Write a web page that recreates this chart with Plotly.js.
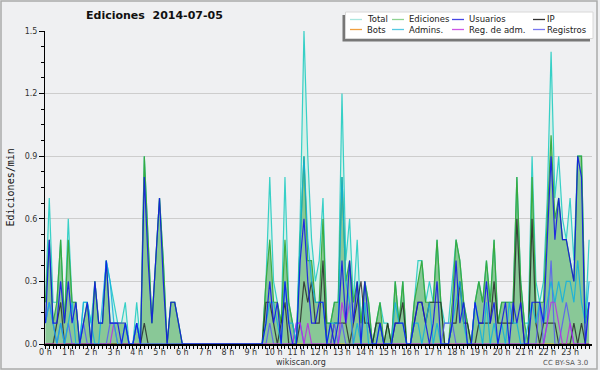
<!DOCTYPE html>
<html>
<head>
<meta charset="utf-8">
<script src="https://cdn.plot.ly/plotly-3.0.1.min.js"></script>
<style>html,body{margin:0;padding:0;background:#eff0f2;}#chart{width:600px;height:370px;}</style>
</head>
<body>
<div id="chart"></div>
<script>
// values per 10-minute bucket (edits per minute), 144 buckets, rows of 2 hours
const total = [
  0.2,0.7,0.2,0.2,0.5,0.1,0.6,0.2,0.2,0,0.2,0.2,
  0.1,0.3,0.1,0.1,0.4,0.3,0.2,0.1,0.1,0.2,0,0,
  0.2,0,0.9,0.5,0.1,0.4,0.7,0.4,0,0.2,0.2,0.1,
  0,0,0,0,0,0,0,0,0,0,0,0,
  0,0,0,0,0,0,0,0,0,0,0.3,0.8,
  0.3,0.2,0.1,0.8,0.2,0.1,0,0.6,1.5,0.9,0.5,0.3,
  0.4,0.7,0.1,0.1,0.2,0.2,1.2,0.4,0.6,0.2,0.5,0.1,
  0.3,0.2,0,0.1,0.2,0.1,0.1,0,0.3,0.1,0.3,0,
  0,0.2,0.4,0.4,0.2,0.3,0.2,0.5,0.2,0.1,0.1,0.3,
  0.5,0.4,0.2,0.1,0,0.2,0.3,0.2,0.4,0.2,0.5,0.1,
  0.2,0.2,0.2,0.2,0.8,0.3,0.1,0.1,0.9,0.3,0.2,0.3,
  0.7,1.4,0.7,0.9,0.6,0.5,0.7,0.4,0.9,0.9,0.1,0.5
];
const ediciones = [
  0.2,0.5,0.1,0.2,0.5,0.1,0.5,0.2,0.2,0,0.1,0.2,
  0,0.3,0.1,0.1,0.4,0.1,0.1,0.1,0.1,0.1,0,0,
  0.1,0,0.9,0.5,0.1,0.4,0.7,0.4,0,0.2,0.2,0.1,
  0,0,0,0,0,0,0,0,0,0,0,0,
  0,0,0,0,0,0,0,0,0,0,0.3,0.5,
  0.2,0.2,0.1,0.5,0.2,0.1,0,0.5,0.9,0.4,0.4,0.2,
  0.2,0.6,0.1,0.1,0.2,0.2,0.8,0.3,0.4,0.2,0.3,0.1,
  0.3,0.2,0,0.1,0.2,0,0.1,0,0.3,0.1,0.3,0,
  0,0.2,0.3,0.4,0.2,0.2,0.2,0.5,0.2,0,0,0.2,
  0.5,0.4,0.2,0.1,0,0.2,0.3,0.2,0.4,0.2,0.5,0.1,
  0.2,0.2,0.2,0.2,0.8,0.3,0.1,0,0.8,0.2,0.2,0.2,
  0.6,1.0,0.6,0.7,0.5,0.5,0.4,0.3,0.9,0.9,0.1,0.2
];
const usuarios = [
  0.1,0.5,0.1,0.1,0.3,0.1,0.3,0.1,0.2,0,0.1,0.2,
  0,0.3,0.1,0.1,0.4,0.1,0.1,0.1,0,0.1,0,0,
  0.1,0,0.8,0.4,0.1,0.4,0.7,0.3,0,0.2,0.2,0.1,
  0,0,0,0,0,0,0,0,0,0,0,0,
  0,0,0,0,0,0,0,0,0,0,0.1,0.3,
  0.1,0.2,0,0.3,0.1,0,0,0.4,0.6,0.3,0.1,0.1,
  0.2,0.2,0,0.1,0,0.1,0.4,0.1,0.4,0.1,0.3,0,
  0.3,0.1,0,0,0.1,0,0,0,0.1,0.1,0.1,0,
  0,0.1,0.2,0.2,0.1,0,0.1,0.3,0,0,0,0.1,
  0.4,0.1,0.2,0,0,0.2,0.1,0.1,0.3,0.1,0.2,0,
  0.1,0.2,0,0.2,0.1,0.2,0,0,0.2,0.2,0.2,0.1,
  0.5,0.9,0.5,0.7,0.5,0.5,0.4,0.3,0.9,0.8,0,0.2
];
const ip = [
  0,0,0,0.1,0.2,0,0,0,0,0,0,0,
  0,0,0,0,0,0,0,0,0,0,0,0,
  0,0,0.1,0,0,0,0,0,0,0,0,0,
  0,0,0,0,0,0,0,0,0,0,0,0,
  0,0,0,0,0,0,0,0,0,0,0.2,0.2,
  0.1,0,0.1,0.2,0,0,0,0.1,0.3,0.2,0.3,0.1,
  0.1,0.4,0,0,0.1,0.1,0.1,0.1,0,0.1,0.2,0.3,
  0.1,0.1,0,0.1,0.1,0,0.1,0,0.1,0.1,0.2,0,
  0,0.1,0.2,0.2,0.1,0.2,0.2,0.2,0.2,0,0,0.1,
  0.1,0.3,0.1,0.1,0,0,0.1,0.1,0.1,0.1,0.3,0.1,
  0.1,0.1,0.1,0.1,0.6,0.2,0,0,0.6,0.1,0,0.1,
  0.1,0.1,0.1,0,0,0,0,0.1,0,0.1,0,0
];
const bots = [
  0,0,0,0,0,0,0,0,0,0,0,0,
  0,0,0,0,0,0,0,0,0,0,0,0,
  0,0,0,0,0,0,0,0,0,0,0,0,
  0,0,0,0,0,0,0,0,0,0,0,0,
  0,0,0,0,0,0,0,0,0,0,0,0,
  0,0,0,0,0,0,0,0,0,0,0,0,
  0,0,0,0,0,0,0,0,0,0,0,0,
  0,0,0,0,0,0,0,0,0,0,0,0,
  0,0,0,0,0,0,0,0,0,0,0,0,
  0,0,0,0,0,0,0,0,0,0,0,0,
  0,0,0,0,0,0,0,0,0,0,0,0,
  0,0,0,0,0,0,0,0,0,0,0,0
];
const admins = [
  0.1,0.2,0.1,0,0.1,0,0.1,0.2,0,0,0.2,0.2,
  0.1,0,0,0.2,0.4,0.3,0.1,0,0,0.1,0,0,
  0.1,0,0,0,0,0,0,0,0,0,0,0,
  0,0,0,0,0,0,0,0,0,0,0,0,
  0,0,0,0,0,0,0,0,0,0,0.1,0.2,
  0.2,0.1,0,0.3,0.1,0.1,0,0.5,0.9,0.5,0.3,0.2,
  0.2,0.2,0,0.1,0.1,0.1,0.8,0.3,0.2,0,0.1,0,
  0.2,0,0,0,0.1,0,0,0,0.2,0.1,0.1,0,
  0,0.1,0.1,0,0.1,0.2,0,0.1,0,0,0,0.1,
  0.2,0.3,0.1,0,0,0.2,0.1,0,0.2,0,0.1,0,
  0.1,0,0.2,0.1,0.1,0,0,0.1,0.2,0.1,0.2,0.1,
  0.2,0.3,0.2,0.3,0.2,0.3,0.3,0.2,0.4,0.2,0.1,0.3
];
const regAdm = [
  0,0,0,0,0,0,0,0,0,0,0,0,
  0,0,0,0,0,0,0.1,0,0,0,0,0,
  0,0,0,0,0,0,0,0,0,0,0,0,
  0,0,0,0,0,0,0,0,0,0,0,0,
  0,0,0,0,0,0,0,0,0,0,0,0,
  0,0,0,0,0,0,0.1,0.1,0,0.1,0,0,
  0,0,0,0,0,0,0.2,0.1,0.2,0,0,0,
  0,0,0,0,0,0,0,0,0,0,0,0,
  0,0,0,0,0,0,0,0,0,0,0,0,
  0,0,0,0,0,0,0,0,0,0,0,0,
  0,0,0,0,0,0,0,0,0,0,0,0,
  0.1,0.2,0.2,0.1,0,0,0.1,0,0,0,0,0
];
const registros = [
  0.1,0.2,0.1,0,0.1,0,0.1,0,0,0,0.1,0,
  0,0,0,0,0,0.1,0.1,0.1,0.1,0.1,0,0,
  0.1,0,0,0,0,0,0,0,0,0,0,0,
  0,0,0,0,0,0,0,0,0,0,0,0,
  0,0,0,0,0,0,0,0,0,0,0,0.1,
  0,0,0,0,0,0,0.1,0.1,0,0,0,0,
  0,0,0,0,0.1,0,0.1,0,0,0,0,0,
  0,0,0,0,0,0,0,0,0,0,0,0,
  0,0,0,0,0,0,0,0,0,0.1,0.1,0.1,
  0,0,0,0,0,0,0,0,0,0,0,0,
  0,0,0,0,0,0,0,0,0,0,0.2,0,
  0.1,0.4,0,0,0.1,0.2,0.1,0,0,0,0,0.2
];
const seriesNames = ["Total","Ediciones","Usuarios","IP","Bots","Admins.","Reg. de adm.","Registros"];
const hourTicks = [0,1,2,3,4,5,6,7,8,9,10,11,12,13,14,15,16,17,18,19,20,21,22,23];
const hourLabels = ["0 h","1 h","2 h","3 h","4 h","5 h","6 h","7 h","8 h","9 h","10 h","11 h","12 h","13 h","14 h","15 h","16 h","17 h","18 h","19 h","20 h","21 h","22 h","23 h"];
const yTicks = [0,0.3,0.6,0.9,1.2,1.5];
const yLabels = ["0.0","0.3","0.6","0.9","1.2","1.5"];

// time of each 10-minute bucket in hours
const times = total.map((_, i) => i / 6);

const lineColors = {
  "Total": "rgba(45,205,196,0.95)",
  "Ediciones": "rgba(55,170,60,0.95)",
  "Usuarios": "rgba(15,15,235,0.85)",
  "IP": "rgba(35,35,35,0.8)",
  "Bots": "rgba(240,150,40,0.9)",
  "Admins.": "rgba(15,175,225,0.85)",
  "Reg. de adm.": "rgba(185,45,230,0.85)",
  "Registros": "rgba(85,85,250,0.8)"
};
const legendColors = ["#a9e6df","#8fd392","#4646e4","#333333","#f0a040","#56c9e2","#cd57e6","#7878f0"];

const seriesData = {
  "Total": total, "Ediciones": ediciones, "Usuarios": usuarios, "IP": ip,
  "Bots": bots, "Admins.": admins, "Reg. de adm.": regAdm, "Registros": registros
};

const traces = [];
traces.push({x: times, y: total, type: 'scatter', mode: 'lines', name: 'Total',
  fill: 'tozeroy', fillcolor: 'rgba(205,240,228,0.75)',
  line: {color: lineColors["Total"], width: 1.2}, showlegend: false, hoverinfo: 'skip'});
traces.push({x: times, y: ediciones, type: 'scatter', mode: 'lines', name: 'Ediciones',
  fill: 'tozeroy', fillcolor: 'rgba(60,160,70,0.5)',
  line: {color: lineColors["Ediciones"], width: 1.2}, showlegend: false, hoverinfo: 'skip'});
["Bots","IP","Registros","Reg. de adm.","Admins.","Usuarios"].forEach(n => {
  traces.push({x: times, y: seriesData[n], type: 'scatter', mode: 'lines', name: n,
    line: {color: lineColors[n], width: 1.2}, showlegend: false, hoverinfo: 'skip'});
});

// pixel -> paper helpers
const L = 45, R = 8, T = 31, B = 26, W = 600, H = 370;
const PW = W - L - R, PH = H - T - B;
const px = v => (v - L) / PW;
const py = v => (H - B - v) / PH;

const shapes = [];
const annotations = [];

// legend box with shadow
shapes.push({type:'rect', xref:'paper', yref:'paper', layer:'above',
  x0: px(342.5), x1: px(590), y0: py(41.5), y1: py(15), fillcolor:'#777777', line:{width:0}});
shapes.push({type:'rect', xref:'paper', yref:'paper', layer:'above',
  x0: px(345.5), x1: px(593), y0: py(38.5), y1: py(12), fillcolor:'#ffffff', line:{color:'#d8d8d8', width:1}});
const colLine = [350, 392, 452, 533];
const colText = [365, 407, 467, 545];
const rowY = [19.5, 29.5];
seriesNames.forEach((n, k) => {
  const c = k % 4, r = Math.floor(k / 4);
  shapes.push({type:'line', xref:'paper', yref:'paper', layer:'above',
    x0: px(colLine[c]), x1: px(colLine[c] + 12), y0: py(rowY[r]), y1: py(rowY[r]),
    line:{color: legendColors[k], width: 1.3}});
  annotations.push({xref:'paper', yref:'paper', x: px(colText[c]), y: py(rowY[r]),
    xanchor:'left', yanchor:'middle', showarrow:false, text: n,
    font:{family:'DejaVu Sans', size:8.5, color:'#222'}});
});

// outer border
shapes.push({type:'rect', xref:'paper', yref:'paper', layer:'above',
  x0: px(1), x1: px(597), y0: py(369), y1: py(1), line:{color:'#ababab', width:1.5}});

annotations.push({xref:'paper', yref:'paper', x: px(154), y: py(16), xanchor:'center', yanchor:'middle',
  showarrow:false, text:'Ediciones\u00a0 2014-07-05',
  font:{family:'DejaVu Sans', size:11, color:'#111', weight:'bold'}});
annotations.push({xref:'paper', yref:'paper', x: px(9.5), y: py(188), xanchor:'center', yanchor:'middle',
  showarrow:false, text:'Ediciones/min', textangle:-90,
  font:{family:'DejaVu Sans Mono', size:10, color:'#111'}});
annotations.push({xref:'paper', yref:'paper', x: px(301), y: py(362), xanchor:'center', yanchor:'middle',
  showarrow:false, text:'wikiscan.org', font:{family:'DejaVu Sans', size:8, color:'#333'}});
annotations.push({xref:'paper', yref:'paper', x: px(590), y: py(363), xanchor:'right', yanchor:'middle',
  showarrow:false, text:'CC BY-SA 3.0', font:{family:'DejaVu Sans', size:7, color:'#555'}});

const layout = {
  width: W, height: H,
  margin: {l: L, r: R, t: T, b: B, pad: 0},
  paper_bgcolor: '#eff0f2', plot_bgcolor: '#eff0f2',
  showlegend: false,
  xaxis: {
    range: [-0.02, 23.96], tickmode: 'array', tickvals: hourTicks, ticktext: hourLabels,
    ticks: 'outside', ticklen: 3, tickwidth: 1, tickcolor: '#000',
    ticklabelstandoff: -4,
    showline: true, linecolor: '#000', linewidth: 2, showgrid: false, zeroline: false,
    tickfont: {family: 'DejaVu Sans', size: 8, color: '#333'},
    minor: {tickmode: 'linear', tick0: 0, dtick: 1/6, ticks: 'outside', ticklen: 3, tickcolor: '#000', showgrid: false},
    fixedrange: true
  },
  yaxis: {
    range: [0, 1.5], tickmode: 'array', tickvals: yTicks, ticktext: yLabels,
    ticks: 'outside', ticklen: 5, tickwidth: 1, tickcolor: '#000',
    showline: true, linecolor: '#000', linewidth: 1,
    showgrid: true, gridcolor: '#cdcdcd', gridwidth: 1, zeroline: false,
    tickfont: {family: 'DejaVu Sans', size: 8, color: '#333'},
    minor: {tickmode: 'linear', tick0: 0, dtick: 0.075, ticks: 'outside', ticklen: 3, tickcolor: '#000', showgrid: false},
    fixedrange: true
  },
  shapes: shapes,
  annotations: annotations
};

Plotly.newPlot('chart', traces, layout, {displayModeBar: false, staticPlot: true});
</script>
</body>
</html>
